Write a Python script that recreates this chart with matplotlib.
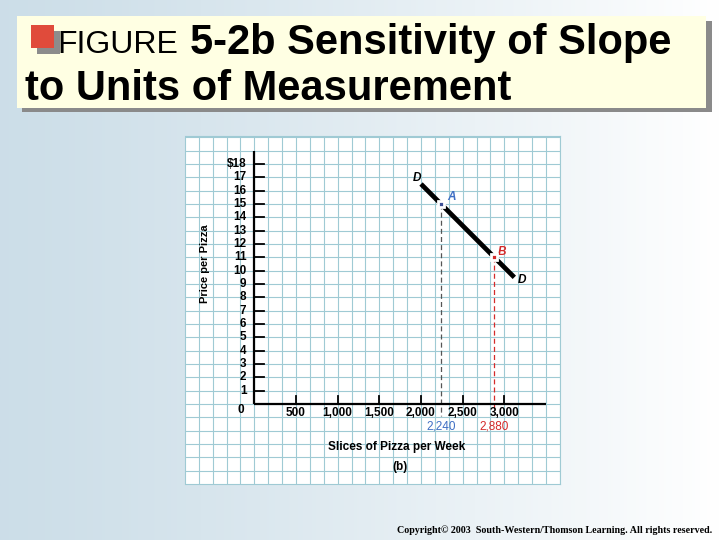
import numpy as np
import matplotlib.pyplot as plt
from matplotlib.patches import Rectangle

# data
prices      = list(range(1, 19))
price_lbls  = ["$18" if p == 18 else str(p) for p in prices]
slices      = [500, 1000, 1500, 2000, 2500, 3000]
slice_lbls  = ["500", "1,000", "1,500", "2,000", "2,500", "3,000"]
demand_q    = [2000, 3120]
demand_p    = [16.5, 9.5]
point_a     = (2240, 15)
point_b     = (2880, 11)

FONT = "Liberation Sans"
BLUE = "#3f6fc4"
RED = "#d42a2a"
GRID = "#9fcad4"

fig = plt.figure(figsize=(7.2, 5.4), dpi=100)

# ── background + title (pixel coords) ─────────────────────────────────────────
bg = fig.add_axes([0, 0, 1, 1])
bg.set_xlim(0, 720)
bg.set_ylim(540, 0)
bg.axis("off")
grad = np.linspace(0, 1, 256)[None, :]
left_c = np.array([0.80, 0.87, 0.91])
right_c = np.array([1.0, 1.0, 1.0])
img = left_c[None, None, :] * (1 - grad[..., None] ** 1.2) + right_c[None, None, :] * grad[..., None] ** 1.2
bg.imshow(img, extent=[0, 720, 540, 0], aspect="auto", zorder=0)

bg.add_patch(Rectangle((22, 21), 690, 91, facecolor="#8a8a8a", edgecolor="none", zorder=1))
bg.add_patch(Rectangle((17, 16), 689, 92, facecolor="#ffffe3", edgecolor="none", zorder=2))
bg.add_patch(Rectangle((37, 31), 23, 23, facecolor="#8c8c8c", edgecolor="none", zorder=3))
bg.add_patch(Rectangle((31, 25), 23, 23, facecolor="#e04b3b", edgecolor="none", zorder=4))
bg.text(57, 53, "FIGURE", fontsize=23, family=FONT, va="baseline", ha="left", zorder=5)
bg.text(190, 54, "5-2b Sensitivity of Slope", fontsize=30, family=FONT, weight="bold",
        va="baseline", ha="left", zorder=5)
bg.text(25, 100, "to Units of Measurement", fontsize=30, family=FONT, weight="bold",
        va="baseline", ha="left", zorder=5)

bg.text(712, 530, "Copyright\u00a9 2003  South-Western/Thomson Learning. All rights reserved.",
        fontsize=7.2, family="Liberation Serif", weight="bold", ha="right", va="center", zorder=5)

# ── chart panel ───────────────────────────────────────────────────────────────
ax = fig.add_axes([185.5 / 720, 56 / 540, 374.5 / 720, 348 / 540])
ax.set_xlim(-826, 3668)
ax.set_ylim(-6.0, 20.1)
ax.set_facecolor("white")
for s in ax.spines.values():
    s.set_color(GRID)
    s.set_linewidth(0.8)

step = 500 / 3
for gx in np.arange(-4, 23) * step:
    ax.axvline(gx, color=GRID, lw=0.8, zorder=0)
for gy in range(-5, 21):
    ax.axhline(gy, color=GRID, lw=0.8, zorder=0)

# axes lines
ax.plot([0, 0], [0, 19], color="black", lw=1.6, zorder=3, solid_capstyle="butt")
ax.plot([0, 3500], [0, 0], color="black", lw=1.6, zorder=3, solid_capstyle="butt")
ax.set_xticks([])
ax.set_yticks([])

for p, lbl in zip(prices, price_lbls):
    ax.plot([0, 115], [p, p], color="black", lw=1.3, zorder=3)
    ax.text(-95, p, lbl, ha="right", va="center", fontsize=8.5, weight="bold", family=FONT)
ax.text(-125, -0.45, "0", ha="right", va="center", fontsize=8.5, weight="bold", family=FONT)

for q, lbl in zip(slices, slice_lbls):
    ax.plot([q, q], [0, 0.6], color="black", lw=1.3, zorder=3)
    ax.text(q, -0.65, lbl, ha="center", va="center", fontsize=8.5, weight="bold", family=FONT)

# dashed drop lines
ax.plot([point_a[0], point_a[0]], [point_a[1], -0.9], color="#555555", lw=0.9,
        ls=(0, (4, 2.5)), zorder=2)
ax.plot([point_b[0], point_b[0]], [point_b[1], -0.3], color=RED, lw=0.9,
        ls=(0, (4, 2.5)), zorder=2)

# demand curve
ax.plot(demand_q, demand_p, color="black", lw=3.4, zorder=4, solid_capstyle="butt")
ax.plot(*point_a, marker="s", ms=5, color="#3c4f96", mec="white", mew=2.0, zorder=5)
ax.plot(*point_b, marker="s", ms=5, color=RED, mec="white", mew=2.0, zorder=5)

ax.text(1950, 16.95, "D", fontsize=8.5, weight="bold", style="italic", family=FONT,
        ha="center", va="center")
ax.text(3209, 9.3, "D", fontsize=8.5, weight="bold", style="italic", family=FONT,
        ha="center", va="center")
ax.text(2360, 15.5, "A", fontsize=8.5, weight="bold", style="italic", family=FONT,
        color=BLUE, ha="center", va="center")
ax.text(2975, 11.4, "B", fontsize=8.5, weight="bold", style="italic", family=FONT,
        color=RED, ha="center", va="center")

ax.text(point_a[0], -1.7, "2,240", fontsize=8.5, family=FONT, color=BLUE, ha="center", va="center")
ax.text(point_b[0], -1.7, "2,880", fontsize=8.5, family=FONT, color=RED, ha="center", va="center")

ax.text(1710, -3.2, "Slices of Pizza per Week", fontsize=8.5, weight="bold", family=FONT,
        ha="center", va="center")
ax.text(1745, -4.7, "(b)", fontsize=8.5, weight="bold", family=FONT, ha="center", va="center")
ax.text(-590, 10.5, "Price per Pizza", fontsize=8, weight="bold", family=FONT,
        rotation=90, ha="center", va="center")

fig.savefig("out.png", dpi=100)
